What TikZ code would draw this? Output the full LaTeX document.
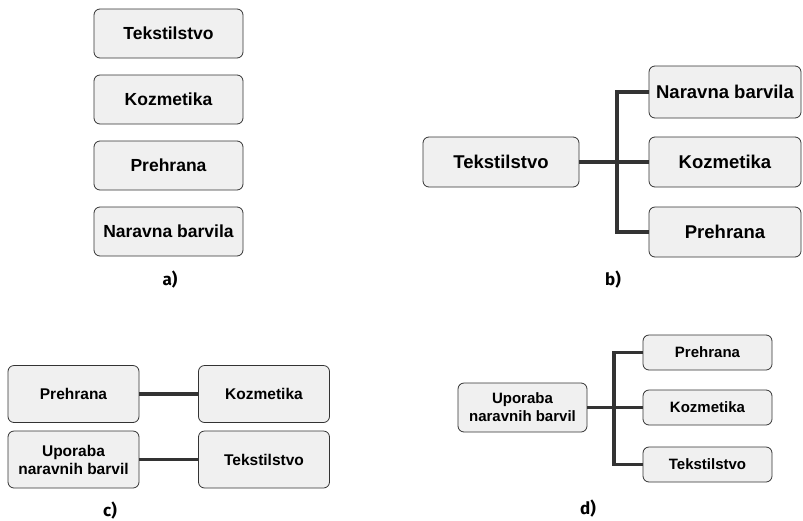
\documentclass[tikz,border=0pt]{standalone}
\usepackage{fontspec}
\setmainfont{Liberation Sans}
\newfontfamily\labfont{Fira Sans}
\begin{document}
\begin{tikzpicture}[x=1pt,y=-1pt,
  box/.style={draw=black!80, fill=black!6, rounded corners=6pt, line width=0.8pt,
    inner sep=0pt, align=center},
  conn/.style={draw=black!80, line width=3.8pt},
  lab/.style={font=\labfont\bfseries\fontsize{17}{17}\selectfont}]
\useasboundingbox (0,0) rectangle (803,520);
% panel a
\begin{scope}[every node/.append style={minimum width=149pt, minimum height=49pt, font=\bfseries\fontsize{17.5}{19}\selectfont}]
\node[box] (a1) at (168.5,33.5) {Tekstilstvo};
\node[box] (a2) at (168.5,99.5) {Kozmetika};
\node[box] (a3) at (168.5,165.5) {Prehrana};
\node[box] (a4) at (168.5,231.5) {Naravna barvila};
\end{scope}
\node[lab] (la) at (170,280) {a)};
% panel b
\begin{scope}[every node/.append style={minimum height=50pt, font=\bfseries\fontsize{18.5}{20}\selectfont}]
\node[box, minimum width=156pt] (bt) at (501,162) {Tekstilstvo};
\node[box, minimum width=152pt, minimum height=52pt] (bn) at (725,92) {Naravna barvila};
\node[box, minimum width=152pt] (bk) at (725,162) {Kozmetika};
\node[box, minimum width=152pt] (bp) at (725,232) {Prehrana};
\end{scope}
\coordinate (bj) at (617,162);
\draw[conn] (bt.east) -- (bk.west);
\draw[conn] (bn.west) -| (bj) |- (bp.west);
\node[lab] (lb) at (613,280) {b)};
% panel c
\begin{scope}[every node/.append style={minimum width=131pt, minimum height=57pt, font=\bfseries\fontsize{15.5}{18}\selectfont}]
\node[box] (cp) at (73.5,394) {Prehrana};
\node[box] (ck) at (264,394) {Kozmetika};
\node[box] (cu) at (73.5,459.5) {Uporaba\\naravnih barvil};
\node[box] (ct) at (264,459.5) {Tekstilstvo};
\end{scope}
\draw[conn, line width=3.4pt] (cp.east) -- (ck.west);
\draw[conn, line width=3.4pt] (cu.east |- ct.west) -- (ct.west);
\node[lab] (lc) at (110,511) {c)};
% panel d
\begin{scope}[every node/.append style={minimum width=129pt, minimum height=35pt, font=\bfseries\fontsize{15}{18}\selectfont}]
\node[box, minimum height=49pt] (du) at (522.5,407.5) {Uporaba\\naravnih barvil};
\node[box] (dp) at (707.5,352.5) {Prehrana};
\node[box] (dk) at (707.5,407.5) {Kozmetika};
\node[box] (dt) at (707.5,464.5) {Tekstilstvo};
\end{scope}
\coordinate (dj) at (614,407.5);
\draw[conn, line width=3.4pt] (du.east) -- (dk.west);
\draw[conn, line width=3.4pt] (dp.west) -| (dj) |- (dt.west);
\node[lab] (ld) at (588,509) {d)};
\end{tikzpicture}
\end{document}
